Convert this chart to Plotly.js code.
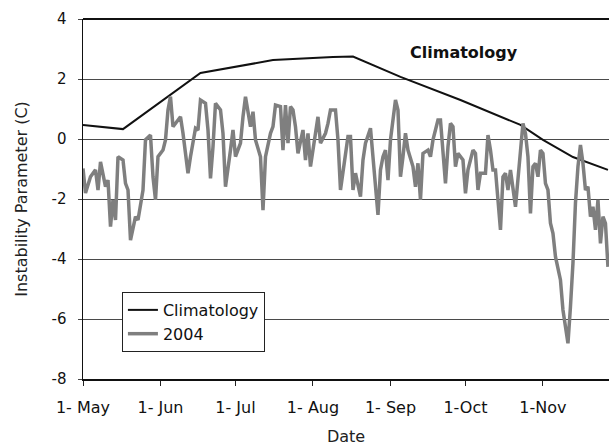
<!DOCTYPE html>
<html>
<head>
<meta charset="utf-8">
<script src="https://cdn.plot.ly/plotly-3.0.1.min.js"></script>
<style>html,body{margin:0;padding:0;background:#fff;}#chart{width:609px;height:446px;}</style>
</head>
<body>
<div id="chart"></div>
<script>
// Days counted from 1 May 2004
var climDay = [0, 16, 47, 76, 100, 108, 127, 151, 175, 184, 196, 210];
var climVal = [0.47, 0.33, 2.2, 2.63, 2.73, 2.75, 2.07, 1.3, 0.47, -0.03, -0.6, -1.03];

var obsDay = [0,1,3,5,6,7,9,10,11,12,13,14,16,17,18,19,21,22,24,25,27,28,29,30,32,33,34,35,36,
  37,39,40,42,43,45,46,47,49,50,51,52,53,55,56,57,59,60,61,63,64,65,67,68,69,71,
  72,73,75,76,77,79,80,81,82,83,84,85,86,88,89,90,91,93,94,95,97,98,99,101,102,103,104,106,107,108,
  109,111,112,113,115,116,117,118,119,120,121,122,123,125,126,127,128,129,130,132,133,134,135,136,138,139,140,142,143,144,
  145,146,147,148,149,150,152,153,154,156,157,158,159,161,162,163,164,165,166,167,168,169,170,171,173,174,175,176,177,178,179,180,
  181,182,183,184,185,186,187,188,189,191,192,193,194,195,196,197,198,199,200,201,202,203,204,205,206,207,208,209,210];
var obsVal = [-0.98,-1.8,-1.26,-1.03,-1.7,-0.76,-1.59,-1.37,-2.92,-2.03,-2.7,-0.59,-0.7,-1.48,-1.7,-3.37,-2.59,-2.7,-1.7,-0.03,0.13,-1.26,-2.03,-0.59,-0.37,-0.03,0.97,1.41,0.41,
  0.52,0.74,0.19,-1.14,-0.59,0.36,0.3,1.3,1.19,0.3,-1.31,-0.26,1.19,0.97,0.19,-1.59,-0.37,0.3,-0.59,-0.14,0.74,1.41,0.41,0.91,-0.03,-0.59,
  -2.37,-0.59,0.19,0.41,1.13,1.08,-0.37,1.13,-0.14,1.08,0.97,0.41,-0.48,0.3,-0.7,0.19,-0.92,0.3,0.74,-0.14,0.19,0.52,0.97,0.97,-0.03,-1.7,-1.14,0.08,0.08,-1.7,
  -1.14,-1.92,-0.7,-0.14,0.36,-0.59,-1.59,-2.53,-1.03,-0.59,-0.37,-1.37,-0.03,1.3,0.97,-1.26,-0.59,0.19,-0.37,-0.92,-1.59,-0.81,-2.03,-0.48,-0.37,-0.59,-0.03,0.63,0.63,-0.53,
  -1.48,-0.26,0.52,0.41,-0.92,-0.48,-0.7,-1.81,-1.03,-0.37,-0.48,-1.7,-1.14,-1.14,0.13,-0.37,-1.03,-1.03,-1.92,-3.03,-1.26,-1.14,-1.7,-1.03,-2.26,-1.37,-0.59,0.52,0.19,-0.59,-2.48,-0.92,
  -0.81,-1.26,-0.37,-0.48,-1.48,-1.7,-2.81,-3.14,-3.92,-4.7,-5.7,-6.37,-6.81,-5.59,-4.14,-2.14,-0.92,-0.2,-0.81,-1.7,-1.59,-2.59,-2.26,-3.03,-2.03,-3.48,-2.59,-2.81,-4.26];

var xTickVals = ['2004-05-01','2004-06-01','2004-07-01','2004-08-01','2004-09-01','2004-10-01','2004-11-01'];
var xTickText = ['1- May','1- Jun','1- Jul','1- Aug','1- Sep','1-Oct','1-Nov'];
var yTickVals = [-8,-6,-4,-2,0,2,4];
var yTickText = ['-8','-6','-4','-2','0','2','4'];

function toDate(d){
  var t = new Date(Date.UTC(2004, 4, 1) + d * 86400000);
  return t.toISOString().slice(0, 10);
}

var FONT = 'DejaVu Sans, Arial, sans-serif';

var traces = [
  {x: climDay.map(toDate), y: climVal, type: 'scatter', mode: 'lines', name: 'Climatology',
   line: {color: '#111111', width: 2}},
  {x: obsDay.map(toDate), y: obsVal, type: 'scatter', mode: 'lines', name: '2004',
   line: {color: '#7f7f7f', width: 3.5}}
];

var layout = {
  width: 609, height: 446,
  margin: {l: 83, r: 0, t: 19, b: 67},
  paper_bgcolor: '#ffffff', plot_bgcolor: '#ffffff',
  font: {family: FONT, color: '#111111'},
  showlegend: true,
  legend: {x: 0.074, y: 0.2417, xanchor: 'left', yanchor: 'top',
    bordercolor: '#222222', borderwidth: 1, bgcolor: '#ffffff',
    font: {family: FONT, size: 16, color: '#111111'}, itemwidth: 30, tracegroupgap: 0},
  xaxis: {
    type: 'date', range: ['2004-05-01', '2004-11-27 10:00'],
    tickmode: 'array', tickvals: xTickVals, ticktext: xTickText,
    ticks: 'outside', ticklen: 5, tickwidth: 1, tickcolor: '#222',
    showgrid: false, zeroline: false, showline: true, linecolor: '#111', linewidth: 2,
    tickfont: {family: FONT, size: 16, color: '#111'},
    ticklabelstandoff: 8,
    title: {text: 'Date', font: {family: FONT, size: 16, color: '#222'}, standoff: 16},
    fixedrange: true
  },
  yaxis: {
    range: [-8, 4], tickmode: 'array', tickvals: yTickVals, ticktext: yTickText,
    ticks: 'outside', ticklen: 4, tickwidth: 1, tickcolor: '#444',
    showgrid: true, gridcolor: '#4a4a4a', gridwidth: 1,
    zeroline: false, showline: true, linecolor: '#111', linewidth: 1.5,
    tickfont: {family: FONT, size: 15, color: '#111'},
    ticklabelstandoff: 8,
    title: {text: 'Instability Parameter (C)', font: {family: FONT, size: 16, color: '#222'}, standoff: 20},
    fixedrange: true
  },
  shapes: [
    {type: 'line', xref: 'paper', yref: 'paper', x0: 0, x1: 1, y0: 1, y1: 1,
     line: {color: '#111', width: 2}}
  ],
  annotations: [
    {text: '<b>Climatology</b>', xref: 'paper', yref: 'paper', x: 0.724, y: 0.907,
     xanchor: 'center', yanchor: 'middle', showarrow: false,
     font: {family: FONT, size: 16, color: '#111'}}
  ]
};

Plotly.newPlot('chart', traces, layout, {displayModeBar: false, staticPlot: true});
</script>
</body>
</html>
